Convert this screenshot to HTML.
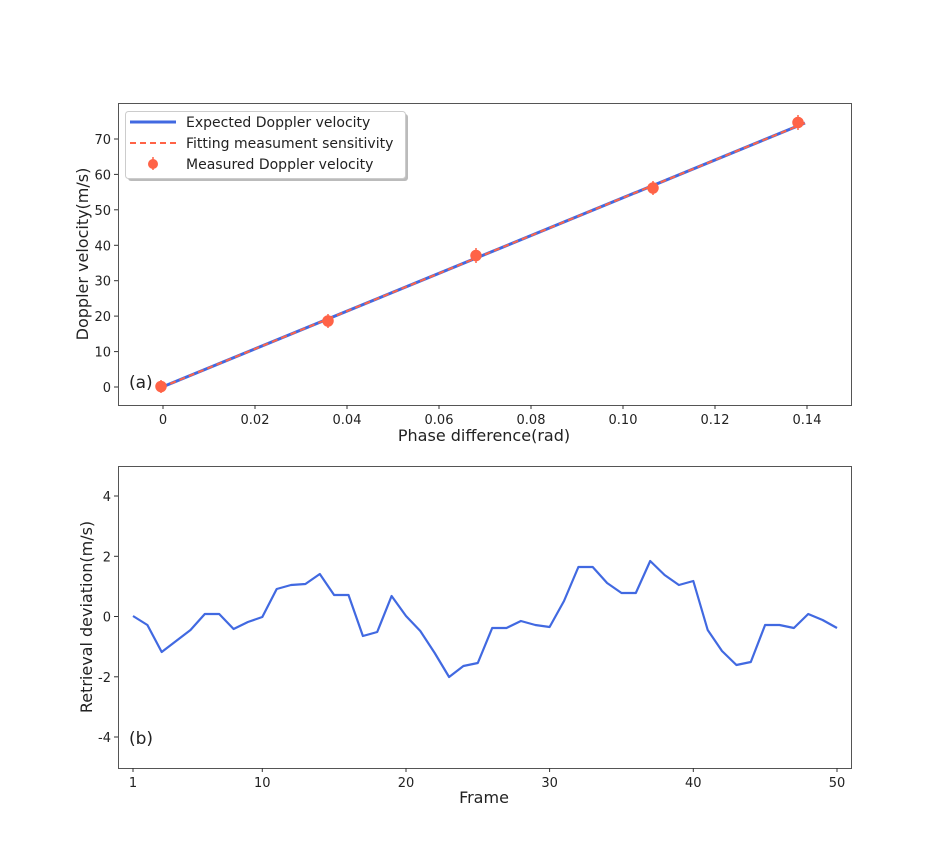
<!DOCTYPE html>
<html><head><meta charset="utf-8"><style>body{margin:0;background:#fff}svg{display:block;font-family:"DejaVu Sans","Liberation Sans",sans-serif}</style></head><body>
<svg width="946" height="862" xmlns="http://www.w3.org/2000/svg">
<rect width="946" height="862" fill="#fff"/>
<!-- top -->
<g font-size="13" fill="#222">
<line x1="161" y1="387.5" x2="805" y2="123" stroke="#4169e1" stroke-width="3"/>
<line x1="161" y1="387.5" x2="805" y2="123" stroke="#ff6347" stroke-width="2" stroke-dasharray="6,4"/>
<g stroke="#ff6347" stroke-width="1.5" fill="#ff6347">
<line x1="161" y1="380" x2="161" y2="393"/><circle cx="161" cy="386.5" r="5"/>
<line x1="328" y1="314" x2="328" y2="328"/><circle cx="328" cy="321" r="5"/>
<line x1="476" y1="248" x2="476" y2="263"/><circle cx="476" cy="255.5" r="5"/>
<line x1="653" y1="181" x2="653" y2="195"/><circle cx="653" cy="188" r="5"/>
<line x1="798" y1="115" x2="798" y2="130"/><circle cx="798" cy="122.5" r="5"/>
</g>
<rect x="118.5" y="103.5" width="733" height="302" fill="none" stroke="#555" stroke-width="1"/>
<g stroke="#333">
<line x1="163" y1="405" x2="163" y2="409"/><line x1="255" y1="405" x2="255" y2="409"/><line x1="347" y1="405" x2="347" y2="409"/><line x1="439" y1="405" x2="439" y2="409"/><line x1="531" y1="405" x2="531" y2="409"/><line x1="623" y1="405" x2="623" y2="409"/><line x1="715" y1="405" x2="715" y2="409"/><line x1="807" y1="405" x2="807" y2="409"/>
<line x1="114" y1="387" x2="118" y2="387"/><line x1="114" y1="351.6" x2="118" y2="351.6"/><line x1="114" y1="316.1" x2="118" y2="316.1"/><line x1="114" y1="280.7" x2="118" y2="280.7"/><line x1="114" y1="245.3" x2="118" y2="245.3"/><line x1="114" y1="209.8" x2="118" y2="209.8"/><line x1="114" y1="174.4" x2="118" y2="174.4"/><line x1="114" y1="139" x2="118" y2="139"/>
</g>
<g text-anchor="middle"><text x="163" y="424">0</text><text x="255" y="424">0.02</text><text x="347" y="424">0.04</text><text x="439" y="424">0.06</text><text x="531" y="424">0.08</text><text x="623" y="424">0.10</text><text x="715" y="424">0.12</text><text x="807" y="424">0.14</text></g>
<g text-anchor="end"><text x="111" y="392">0</text><text x="111" y="356.6">10</text><text x="111" y="321.1">20</text><text x="111" y="285.7">30</text><text x="111" y="250.3">40</text><text x="111" y="214.8">50</text><text x="111" y="179.4">60</text><text x="111" y="144">70</text></g>
<text x="484" y="441" text-anchor="middle" font-size="16">Phase difference(rad)</text>
<text transform="translate(88,254) rotate(-90)" text-anchor="middle" font-size="16">Doppler velocity(m/s)</text>
<text x="129" y="388" font-size="17">(a)</text>
<rect x="128" y="114" width="280" height="67" rx="3" fill="#bbb"/>
<rect x="125.5" y="111.5" width="280" height="67" rx="3" fill="#fff" stroke="#ccc"/>
<line x1="130" y1="122" x2="176" y2="122" stroke="#4169e1" stroke-width="3"/>
<line x1="130" y1="143" x2="176" y2="143" stroke="#ff6347" stroke-width="2" stroke-dasharray="6,4"/>
<line x1="153" y1="157" x2="153" y2="170" stroke="#ff6347" stroke-width="1.5"/><circle cx="153" cy="164" r="5" fill="#ff6347"/>
<g font-size="14"><text x="186" y="127">Expected Doppler velocity</text>
<text x="186" y="148">Fitting measument sensitivity</text>
<text x="186" y="169">Measured Doppler velocity</text></g>
</g>
<!-- bottom -->
<g font-size="13" fill="#222">
<polyline fill="none" stroke="#4169e1" stroke-width="2.2" stroke-linejoin="round" points="133,616 147.4,625 161.7,652 176.1,641 190.5,630 204.8,614 219.2,614 233.6,629 247.9,622 262.3,617 276.7,589 291,585 305.4,584 319.8,574 334.1,595 348.5,595 362.9,636 377.2,632 391.6,596 406,616 420.3,631 434.7,653 449.1,677 463.4,666 477.8,663 492.2,628 506.5,628 520.9,621 535.3,625 549.6,627 564,601 578.4,567 592.7,567 607.1,583 621.5,593 635.8,593 650.2,561 664.6,575 678.9,585 693.3,581 707.7,630 722,651 736.4,665 750.8,662 765.1,625 779.5,625 793.9,628 808.2,614 822.6,620 837,628"/>
<rect x="118.5" y="466.5" width="733" height="302" fill="none" stroke="#555" stroke-width="1"/>
<g stroke="#333">
<line x1="133" y1="768" x2="133" y2="772"/><line x1="262.3" y1="768" x2="262.3" y2="772"/><line x1="406" y1="768" x2="406" y2="772"/><line x1="549.6" y1="768" x2="549.6" y2="772"/><line x1="693.3" y1="768" x2="693.3" y2="772"/><line x1="837" y1="768" x2="837" y2="772"/>
<line x1="114" y1="496" x2="118" y2="496"/><line x1="114" y1="556.3" x2="118" y2="556.3"/><line x1="114" y1="616.5" x2="118" y2="616.5"/><line x1="114" y1="676.8" x2="118" y2="676.8"/><line x1="114" y1="737" x2="118" y2="737"/>
</g>
<g text-anchor="middle"><text x="133" y="787">1</text><text x="262.3" y="787">10</text><text x="406" y="787">20</text><text x="549.6" y="787">30</text><text x="693.3" y="787">40</text><text x="837" y="787">50</text></g>
<g text-anchor="end"><text x="111" y="501">4</text><text x="111" y="561.3">2</text><text x="111" y="621.5">0</text><text x="111" y="681.8">-2</text><text x="111" y="742">-4</text></g>
<text x="484" y="803" text-anchor="middle" font-size="16">Frame</text>
<text transform="translate(92,617) rotate(-90)" text-anchor="middle" font-size="16">Retrieval deviation(m/s)</text>
<text x="129" y="744" font-size="17">(b)</text>
</g>
</svg>
</body></html>
